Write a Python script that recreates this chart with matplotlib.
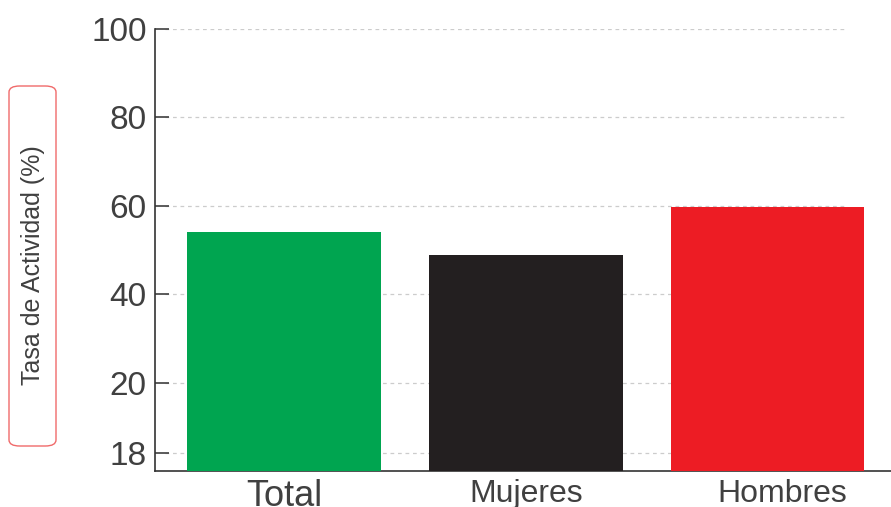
import matplotlib
matplotlib.use("Agg")
import matplotlib.pyplot as plt
from matplotlib.patches import FancyBboxPatch

plt.rcParams['font.family'] = ['Liberation Sans', 'DejaVu Sans']

categorias = ["Total", "Mujeres", "Hombres"]
tasas = [54.1, 48.9, 59.8]
colores = ["#00a550", "#231f20", "#ed1c24"]
ticks_y = [4.1, 20, 40, 60, 80, 100]
etiquetas_y = ["18", "20", "40", "60", "80", "100"]
tam_x = [26, 23, 23]
desplaz_x = [0, 0, 15]  # pixeles

fig = plt.figure(figsize=(8.91, 5.07), dpi=100)
ax = fig.add_axes([155/891, 36/507, 1 - 155/891, (471-29)/507])

x = list(range(len(categorias)))
ax.bar(x, tasas, width=0.8, color=colores, zorder=3)
ax.set_xlim(-0.533, 2.51)
ax.set_ylim(0, 100)

ax.set_yticks(ticks_y)
ax.set_yticklabels(etiquetas_y, fontsize=24, color="#404040")
ax.set_xticks(x)
ax.set_xticklabels([])
ax.tick_params(axis='y', direction='in', length=10, width=1.2, color="#404040", pad=6)
ax.tick_params(axis='x', length=0)

# etiquetas de categoria (Hombres un poco desplazada, como en el original)
for xi, nombre, s, d in zip(x, categorias, tam_x, desplaz_x):
    ax.annotate(nombre, xy=(xi, 0), xycoords=('data', 'axes fraction'),
                xytext=(d, -8), textcoords='offset pixels',
                ha='center', va='top', fontsize=s, color="#404040",
                annotation_clip=False)

# lineas de cuadricula discontinuas
for v in ticks_y:
    ax.axhline(v, xmin=0.014, xmax=0.9375, linestyle=(0, (3, 3)),
               color="#cccccc", linewidth=0.9, zorder=0)
for s in ["top", "right"]:
    ax.spines[s].set_visible(False)
ax.spines["left"].set_color("#333333")
ax.spines["bottom"].set_color("#333333")
ax.spines["left"].set_linewidth(1.2)
ax.spines["bottom"].set_linewidth(1.2)

caja = FancyBboxPatch((9/891, 61/507), 47/891, 360/507,
                      boxstyle="round,pad=0,rounding_size=0.012",
                      transform=fig.transFigure, facecolor="white",
                      edgecolor="#f06a6a", linewidth=1.0)
fig.patches.append(caja)
fig.text(33/891, 1 - 265/507, "Tasa de Actividad (%)", rotation=90,
         ha="center", va="center", fontsize=18, color="#404040")

fig.savefig("out.png", dpi=100)
